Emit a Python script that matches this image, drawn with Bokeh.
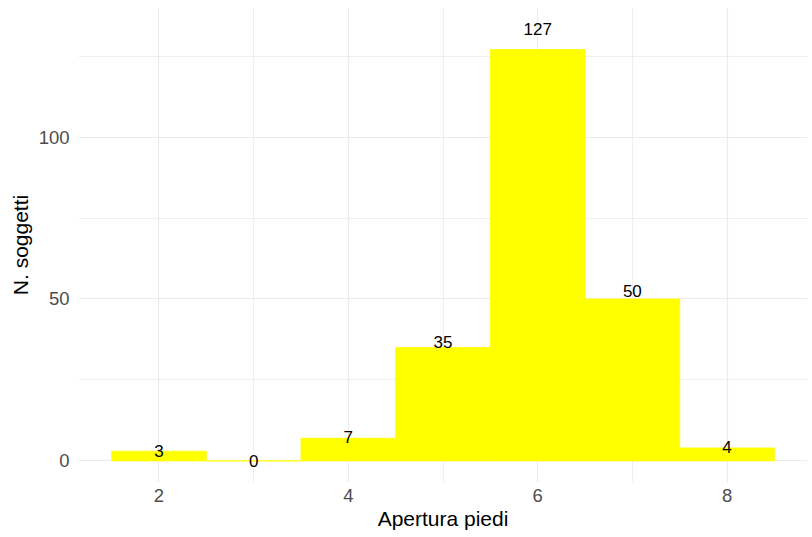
from bokeh.plotting import figure
from bokeh.models import ColumnDataSource, FixedTicker, Range1d
from bokeh.core.properties import value
from bokeh.embed import file_html
from bokeh.resources import INLINE

# Data
centers = [2, 3, 4, 5, 6, 7, 8]
counts = [3, 0, 7, 35, 127, 50, 4]
x_ticks = [2, 4, 6, 8]
x_minor = [3, 5, 7]
y_ticks = [0, 50, 100]
y_minor = [25, 75, 125]

bin_w = 1.0
src = ColumnDataSource(dict(
    left=[c - bin_w / 2 for c in centers],
    right=[c + bin_w / 2 for c in centers],
    top=counts,
    bottom=[0] * len(counts),
    x=centers,
    ly=[c * 1.05 for c in counts],
    lab=[str(c) for c in counts],
))

FONT = "Liberation Sans"

p = figure(width=812, height=537, output_backend="svg", toolbar_location=None,
           x_range=Range1d(1.15, 8.85), y_range=Range1d(-6.67, 140.0),
           min_border_left=78, min_border_right=5, min_border_top=7, min_border_bottom=55)
p.outline_line_color = None
p.background_fill_color = "white"
p.border_fill_color = "white"

p.quad(left="left", right="right", top="top", bottom="bottom", source=src,
       fill_color="#FFFF00", line_color="#FFFF00", line_width=0.8)

p.text(x="x", y="ly", text="lab", source=src, text_align="center", text_baseline="middle",
       text_font=value(FONT), text_font_size="17px", text_color="black")

p.xaxis.ticker = FixedTicker(ticks=x_ticks, minor_ticks=x_minor)
p.yaxis.ticker = FixedTicker(ticks=y_ticks, minor_ticks=y_minor)

for ax in (p.xaxis[0], p.yaxis[0]):
    ax.axis_line_color = None
    ax.major_tick_line_color = None
    ax.minor_tick_line_color = None
    ax.major_tick_out = 0
    ax.major_tick_in = 0
    ax.minor_tick_out = 0
    ax.minor_tick_in = 0
    ax.major_label_text_font = FONT
    ax.major_label_text_font_size = "18.5px"
    ax.major_label_text_color = "#4D4D4D"
    ax.axis_label_text_font = FONT
    ax.axis_label_text_font_size = "21px"
    ax.axis_label_text_font_style = "normal"
    ax.axis_label_text_color = "black"

p.xaxis.axis_label = "Apertura piedi"
p.yaxis.axis_label = "N. soggetti"
p.xaxis.major_label_standoff = 6
p.yaxis.major_label_standoff = 9
p.xaxis.axis_label_standoff = 2
p.yaxis.axis_label_standoff = 4

for g in (p.xgrid[0], p.ygrid[0]):
    g.grid_line_color = "#EBEBEB"
    g.grid_line_width = 1.2
    g.minor_grid_line_color = "#EBEBEB"
    g.minor_grid_line_width = 0.8

open("out.html", "w").write(file_html(p, INLINE))
